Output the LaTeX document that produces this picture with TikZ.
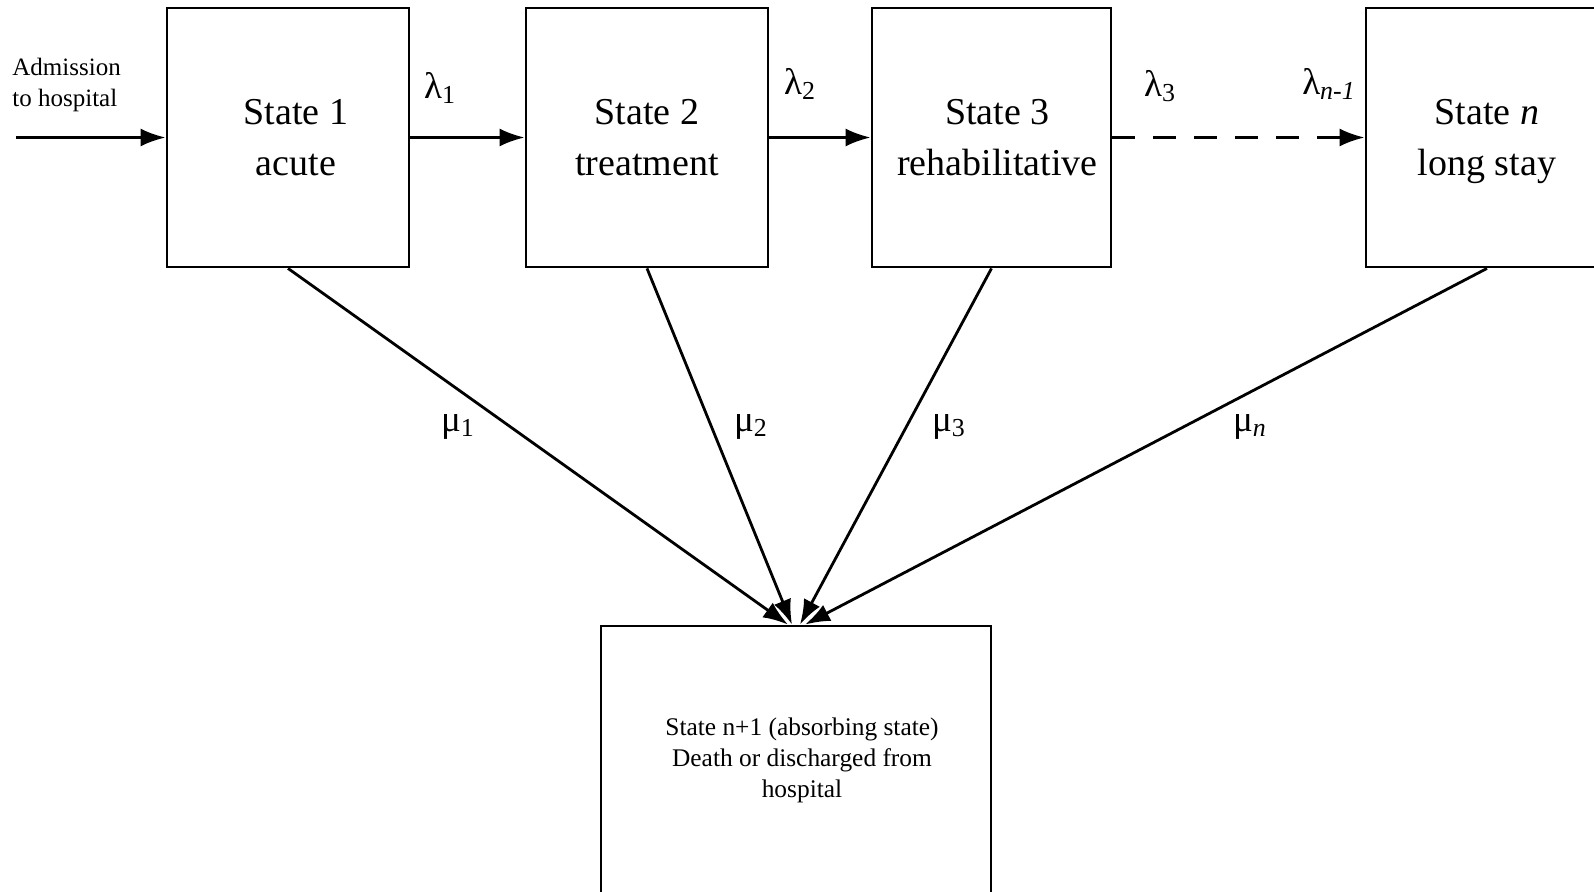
\documentclass[tikz,border=0pt]{standalone}
\usepackage{fontspec}
\setmainfont{Liberation Serif}
\usetikzlibrary{arrows.meta,calc}
\begin{document}
\begin{tikzpicture}[x=0.5pt,y=-0.5pt,
  statebox/.style={draw,line width=1.4pt,minimum height=129.5pt,align=center,inner sep=0pt,
    font=\fontsize{19}{25.5}\selectfont},
  arr/.style={line width=1.4pt,-{Latex[length=12.5pt,width=9pt]}},
  rate/.style={inner sep=0pt,font=\fontsize{18.5}{22}\selectfont},
  small/.style={inner sep=0pt,font=\fontsize{12.5}{15.5}\selectfont}]
\useasboundingbox (0,0) rectangle (1594,892);
\clip (0,0) rectangle (1594,892);
\fill[white] (0,0) rectangle (1594,892);
\node[statebox,minimum width=121pt] (b1) at (288,137.5) {\hspace{8pt}State 1\\\hspace{8pt}acute};
\node[statebox,minimum width=121pt] (b2) at (647,137.5) {State 2\\treatment};
\node[statebox,minimum width=119.5pt] (b3) at (991.5,137.5) {\hspace{6pt}State 3\\\hspace{6pt}rehabilitative};
\node[statebox,minimum width=121pt] (bn) at (1487,137.5) {State \textit{n}\\\raisebox{0pt}[\height][0pt]{long stay}};
\node[statebox,minimum width=195pt,minimum height=134pt,font=\fontsize{12.7}{15.5}\selectfont] (bot) at (796,760)
  {\hspace{6pt}State n+1 (absorbing state)\\\hspace{6pt}Death or discharged from\\\hspace{6pt}hospital};
\node[small,anchor=west,align=left] (adm) at (12,85) {Admission\\to hospital};
\coordinate (in) at (16,137.5);
\draw[arr] (in) -- (b1.west);
\draw[arr] (b1.east) -- (b2.west);
\draw[arr] (b2.east) -- (b3.west);
\draw[arr,dash pattern=on 11.5pt off 9pt] (b3.east) -- (bn.west);
\coordinate (t1) at ($(bot.north)+(-8,0)$);
\coordinate (t2) at ($(bot.north)+(-4,0)$);
\coordinate (t3) at ($(bot.north)+(4,0)$);
\coordinate (t4) at ($(bot.north)+(9,0)$);
\draw[arr] (b1.south) -- (t1);
\draw[arr] (b2.south) -- (t2);
\draw[arr] (b3.south) -- (t3);
\draw[arr] (bn.south) -- (t4);
\node[rate] (l1) at (440,88) {λ\textsubscript{1}};
\node[rate] (l2) at (800,84) {λ\textsubscript{2}};
\node[rate] (l3) at (1160,86) {λ\textsubscript{3}};
\node[rate] (ln) at (1329,84) {λ\textsubscript{\textit{n-1}}};
\node[rate] (m1) at (458,427) {μ\textsubscript{1}};
\node[rate] (m2) at (751,427) {μ\textsubscript{2}};
\node[rate] (m3) at (949,427) {μ\textsubscript{3}};
\node[rate] (mn) at (1250,427) {μ\textsubscript{\textit{n}}};
\end{tikzpicture}
\end{document}
